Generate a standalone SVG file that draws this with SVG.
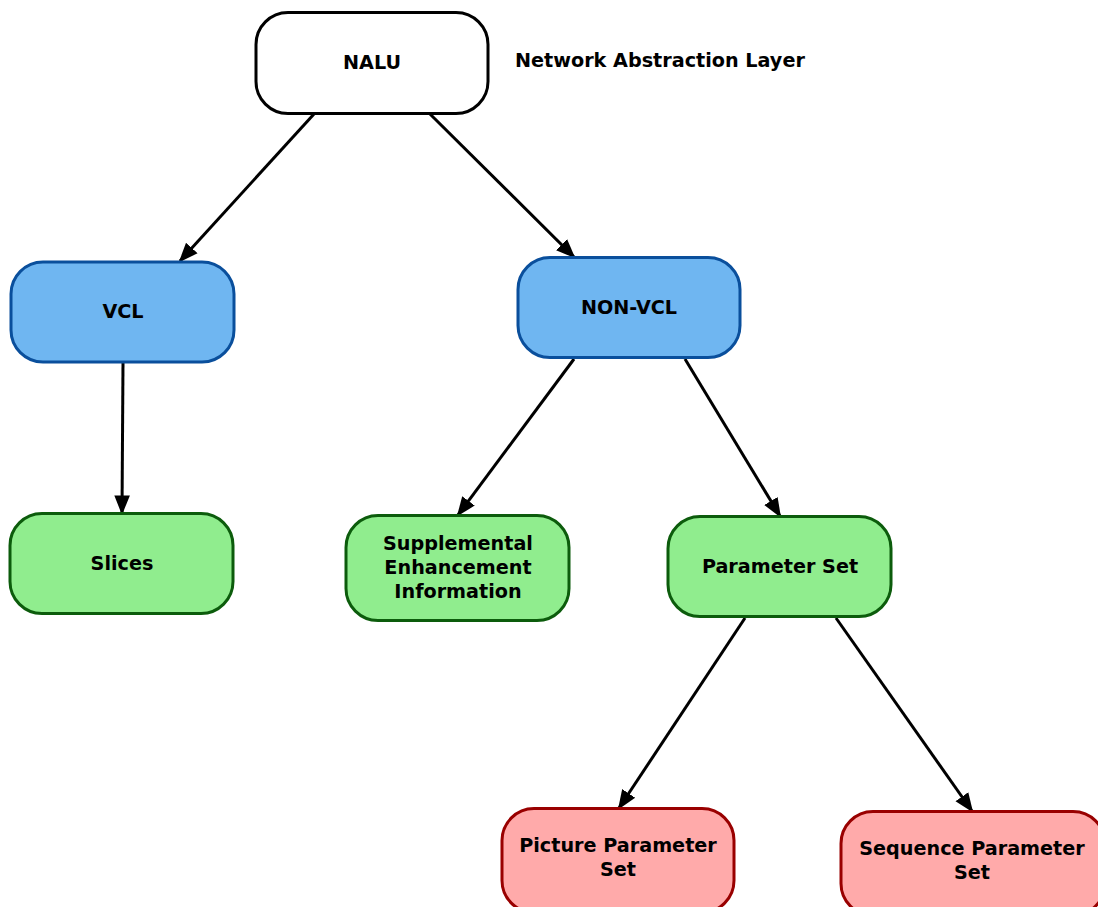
<svg xmlns="http://www.w3.org/2000/svg" width="1098" height="907" viewBox="0 0 1098 907">
<defs>
<style>
text{font-family:"DejaVu Sans",sans-serif;font-weight:bold;font-size:19.2px;fill:#000;text-anchor:middle}
.n rect{stroke-width:3}
.w rect{fill:#fff;stroke:#000}
.b rect{fill:#6fb6f1;stroke:#0a4f9c}
.g rect{fill:#90ed8e;stroke:#0c5c0c}
.r rect{fill:#ffaaaa;stroke:#990000}
.c line{stroke:#000;stroke-width:3;marker-end:url(#ah)}
</style>
<marker id="ah" viewBox="0 0 10 10" refX="9" refY="5" markerWidth="6.5" markerHeight="6.5" orient="auto" markerUnits="strokeWidth"><path d="M0,1 L10,5 L0,9 z" fill="#000"/></marker>
</defs>
<rect width="1098" height="907" fill="#fff"/>
<g class="c">
<line x1="314" y1="114" x2="180" y2="261"/>
<line x1="430" y1="114" x2="574" y2="257"/>
<line x1="123" y1="363" x2="122" y2="513"/>
<line x1="574" y1="359" x2="458" y2="515"/>
<line x1="685" y1="359" x2="780" y2="516"/>
<line x1="745" y1="618" x2="619" y2="808"/>
<line x1="836" y1="618" x2="972" y2="811"/>
</g>
<g id="nalu" class="n w"><rect x="256" y="12.5" width="232" height="101" rx="32"/><text x="372" y="69">NALU</text></g>
<text x="515" y="67" style="text-anchor:start">Network Abstraction Layer</text>
<g id="vcl" class="n b"><rect x="11" y="262" width="223" height="100" rx="32"/><text x="123" y="318">VCL</text></g>
<g id="nonvcl" class="n b"><rect x="518" y="257.5" width="222" height="100" rx="32"/><text x="629" y="314">NON-VCL</text></g>
<g id="slices" class="n g"><rect x="10" y="513.5" width="223" height="100" rx="32"/><text x="122" y="570">Slices</text></g>
<g id="sei" class="n g"><rect x="346" y="515.5" width="223" height="105" rx="32"/><text x="458" y="550">Supplemental</text><text x="458" y="574">Enhancement</text><text x="458" y="598">Information</text></g>
<g id="ps" class="n g"><rect x="668" y="516.5" width="223" height="100" rx="32"/><text x="780" y="573">Parameter Set</text></g>
<g id="pps" class="n r"><rect x="502" y="808.5" width="232" height="104" rx="32"/><text x="618" y="852">Picture Parameter</text><text x="618" y="876">Set</text></g>
<g id="sps" class="n r"><rect x="841" y="811.5" width="264" height="104" rx="32"/><text x="972" y="855">Sequence Parameter</text><text x="972" y="879">Set</text></g>
</svg>
